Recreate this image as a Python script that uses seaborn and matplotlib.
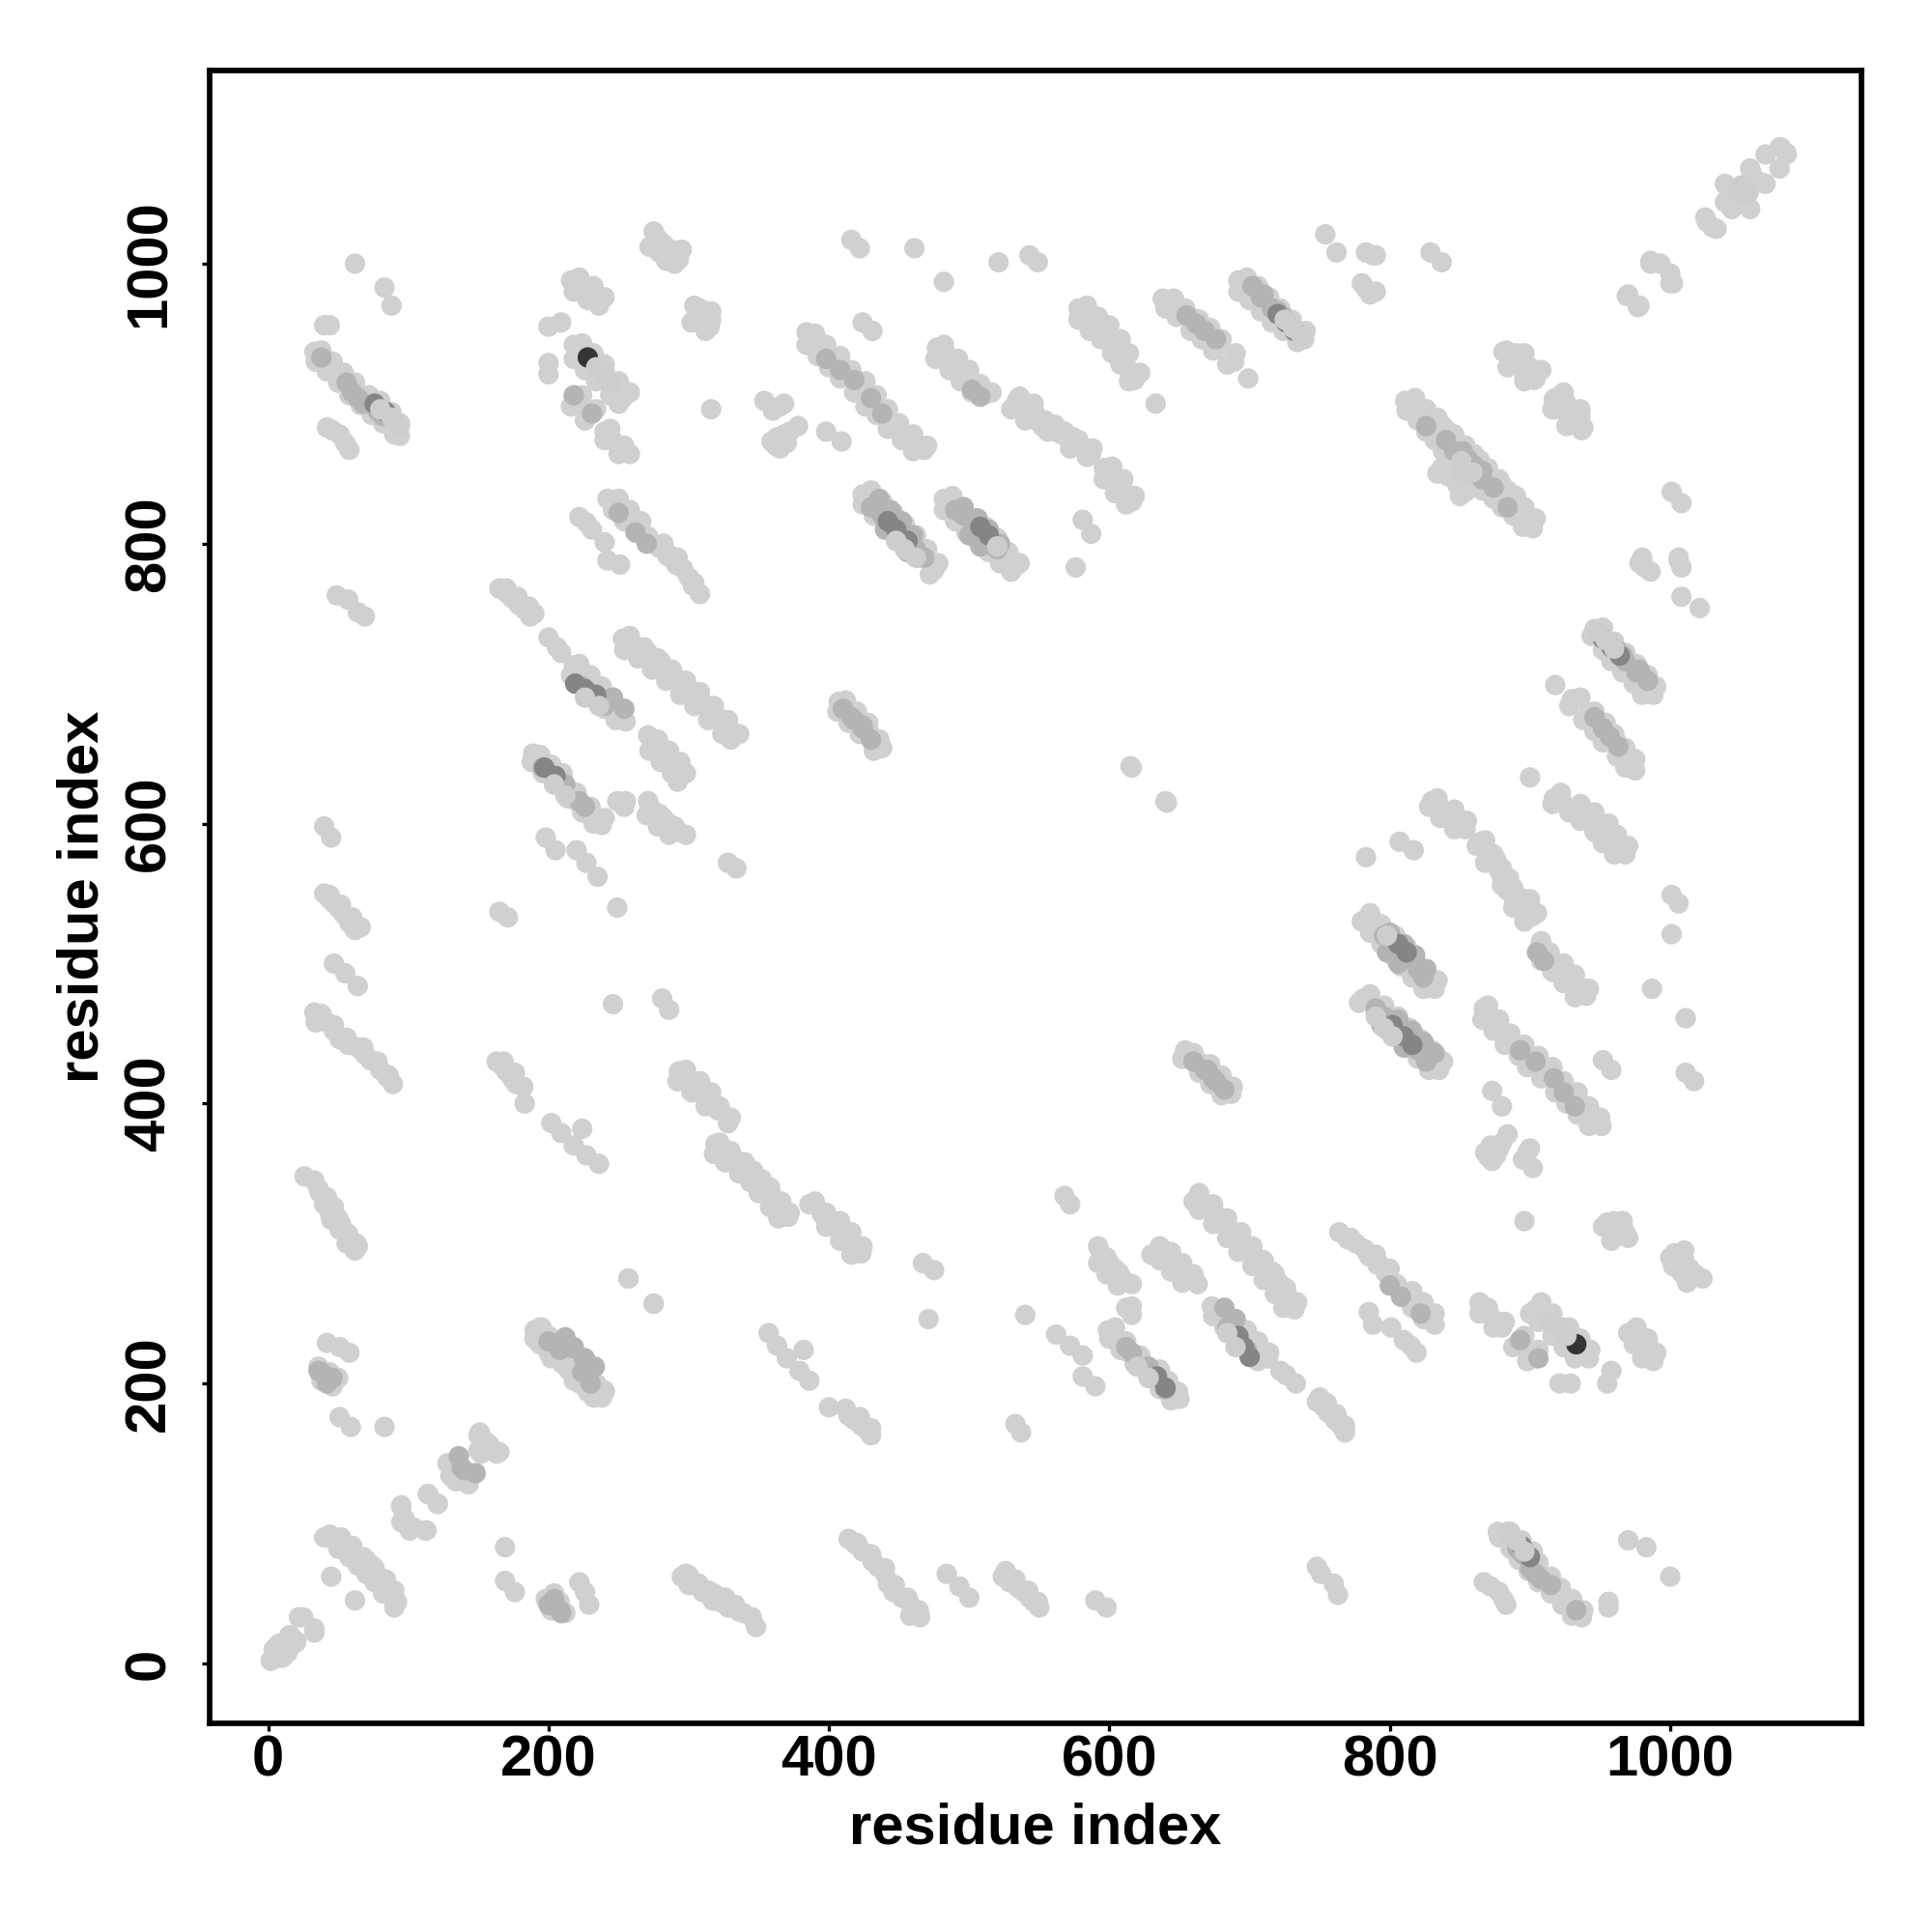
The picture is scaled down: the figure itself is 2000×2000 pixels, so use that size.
import matplotlib
matplotlib.use("Agg")
import matplotlib.pyplot as plt
import pandas as pd
import seaborn as sns

# Contact positions, upper triangle (mirrored when drawn).
light_x = [
 4,2,16,20,25,33, 95,95,104,112,114,121,130,133,141,143,152,150,156,165,
 26,36,42,47,45,51,57,62, 33,37,41,47,52,57,63,
 42,51,58, 51,59, 83, 40,48,55,62,69, 45,
 33,38,42,48,52,55,60,64,68,71,76,80,85,89,92,94, 42,46,51,55,58, 40,44, 62,83,88,
 33,38,42,47,51,57,64,69,73,80,85,89, 47,55,64, 40,44,47,51,54,58,62, 40,45,
 49,57,64,69, 165,170,174,179,183,187, 165,171, 163,167,170,174,177,183,
 202,209,224,218,227,236, 190,196,200,207,218,227,237,
 189,196,203,212,222,231,238, 198,205,220,227,235, 249,
 200,206,209,218,225,234,242,249,255, 222,227,231,240,242,251,
 242,247,253,259,271,279,285,291,300,303,308, 200,209,200,200,
 216,222,227,233,237, 218,227,234,240,244,249,253, 218,225,231,240,245,249,255,
 246,281,286, 293,298,306,310,315,321,328, 319,325,332,337,341,348,
 257, 275,279,288,293,272, 308,315,306,302, 316,
 354,365,363,372,359,365, 384,389,394,400,407,413,420,425,429,435,442,448,455,462,468,
 424,431, 398,409, 416,422, 461, 482, 521, 543,549,
 477,483,490,497,503,512, 534,540,547,554,561,568,574,580,587,
 581,587,576, 424,430,438,444,451,458,464,470,475,
 482,490,499,505,512,517,521,527,532,
 578,584,591,598,605,610,614,618, 596,600,605,611,616, 633,
 638,645,653,660,666,673,679,689,699, 692,699,706,715,723,731,739,
 754,762, 783,790,783,790, 829,837,
 811,818,824,830,837,846,855,864,873,877, 837,844,851, 881,888,895,903,
 918,924,930,938, 969,978, 986,993,1000,
 407,413,420,425,429,434,438, 253,262,271,280,288,295,301,308,315,322,328,
 271,279,286,293, 249,255,271,279,286,293, 328,334,
 1026,1033,1040,1044,1055,1057,1065,1057,1068,1079,1083,
 615,640, 257,
]
light_y = [
 10,2,20,15,33,22, 113,101,97,95,121,114,134,141,134,128,150,163,158,151,
 348,339,333,326,317,310,305,295, 345,336,330,322,314,307,300,
 229,226,222, 176,169, 169, 90,88,84,77,72, 62,
 937,932,929,922,919,914,910,907,903,900,896,892,889,884,880,877, 883,881,878,872,867, 956,956, 1000,983,970,
 465,461,458,452,446,442,440,435,431,424,419,414, 500,493,484, 550,546,543,539,535,529,524, 598,590,
 763,760,751,748, 768,765,761,756,753,748, 537,533, 430,427,423,418,414,400,
 386,379,382,370,363,357, 238,233,229,222,209,202,191,
 650,643,634,625,614,607,599, 590,581,581,572,562, 540,
 733,726,722,713,702,695,689,682,673, 819,815,810,801,788,785,
 832,828,823,817,805,797,791,785,776,770,764, 955,958,929,921,
 988,986,984,979,975, 942,936,931,924,915,910,904, 905,897,893,880,875,871,865,
 471,475,467, 423,419,414,408,403,395,386, 371,366,361,356,352,346,
 275, 1023,1008,1008,1003,1012, 968,955,964,958, 896,
 902,898,876,880,873,868, 951,945,937,934,929,922,915,910,902,896,889,884,878,872,867,
 958,952, 880,873, 1017,1011, 1011, 987, 1001, 1006,1001,
 940,936,929,922,915,907, 902,897,893,888,885,880,876,870,865,
 817,807,783, 835,830,823,817,810,803,797,789,781,
 832,826,819,815,810,803,797,790,783,
 968,962,955,949,942,934,924,917, 854,849,843,836,830, 900,
 975,972,968,961,955,949,942,930,918, 988,983,977,969,961,953,946,
 1021,1008, 1008,1006,982,980, 1008,1001,
 902,898,893,886,880,863,858,849,841,836, 854,849,845, 937,933,929,917,
 904,899,893,883, 977,970, 1002,1000,986,
 687,683,678,672,665,660,654, 732,727,722,716,709,702,695,690,682,675,667,
 663,651,645,638, 616,616,616,607,600,594, 572,568,
 1030,1025,1056,1039,1052,1039,1058,1068,1078,1083,1078,
 641,616, 275,
]

# Points on the flanks of the bands, which give them their width.
side_x = [
 8,14,6,12, 44,52,60,68,74,50,58,64, 40,44,50,56,64, 36,44,50,38,46,
 38,46,54,62,72,80,88,94,34,42,50,58,66,74,82,90,
 38,47,56,68,78,86,34, 44,52,60,66, 170,178,186,190, 168,176,182,
 195,206,214,224,234,240,190,200,210,218,228,
 194,202,210,220,230,240,188,196,204,214,224,232,
 222,230,238,246,254,216,224,232,240,248,
 250,258,266,246,254,286,296,304,282,292,
 224,232,240,250,258,218,226,234,244,250,
 222,232,240,218,228,236, 224,234,244,254,258,216,226,240,250,
 282,288,292,284,290,295,278,286, 310,316,312,316,304,
 298,308,316,322,330,292,302,312,
 322,330,340,318,326,336,344,352,358,
 390,398,408,416,426,434,442,450,460,470,384,392,400,408,418,426,434,442,452,460,
 482,492,500,508,516,476,486,494,502,
 536,546,548,556,566,578,588,530,540,552,562,572,584,
 430,438,446,454,462,470,478,424,432,440,448,456,464,472,
 488,496,504,512,520,528,536,482,490,498,506,514,522,530,
 584,592,600,608,614,622,578,586,594,602,608,614,
 602,610,618,596,604,612,
 646,654,664,672,680,690,640,648,658,666,674,684,
 698,706,714,722,730,740,692,700,708,716,724,734,
 818,826,834,842,852,860,870,878,884,812,820,830,838,846,856,866,874,880,
 890,900,924,936,884,896,918,928,
 258,268,278,288,298,308,318,328,336,254,264,274,284,294,304,314,324,330,
 278,286,294,298,272,280,288,292,
 254,274,282,290,298,270,278,286,
 412,420,428,436,406,414,422,432,
 368,360,370,362,378,368, 788,780,786, 842,834,848,
]
side_y = [
 14,8,4,6, 92,90,84,76,70,82,76,70, 328,322,318,300,298, 212,208,204,202,198,
 938,930,922,915,906,902,894,886,930,923,915,906,899,892,886,878,
 464,456,447,440,430,420,458, 549,542,533,526, 768,762,755,750, 430,422,412,
 240,230,224,208,200,194,232,222,214,202,194,
 649,642,636,622,612,604,644,636,628,618,608,600,
 714,706,698,690,682,706,698,690,682,674,
 832,824,816,824,816,792,782,772,800,790,
 943,936,928,916,908,932,924,916,906,900,
 990,984,976,980,974,970, 906,896,882,870,864,898,888,874,864,
 1014,1010,1008,1002,1000,1010,1018,1004, 962,966,952,960,970,
 424,416,408,398,390,416,408,398,
 372,366,358,364,358,350,344,346,338,
 950,942,934,924,916,906,896,886,878,870,942,934,926,918,908,898,892,882,874,866,
 942,932,924,914,908,932,924,916,908,
 905,900,888,880,878,874,868,896,888,884,880,868,862,
 838,830,822,814,806,796,786,828,820,812,804,796,790,778,
 834,826,818,812,804,794,786,824,816,808,802,794,786,780,
 970,962,956,946,936,922,960,952,946,936,928,916,
 855,846,834,846,836,828,
 975,968,960,954,946,936,968,962,952,946,938,928,
 990,984,976,968,960,952,980,974,966,958,952,944,
 904,896,890,880,868,864,854,846,838,895,888,880,870,852,846,838,832,826,
 936,926,908,896,926,916,896,888,
 734,726,718,710,702,694,684,674,664,724,718,710,702,692,684,674,664,660,
 660,652,644,636,652,644,636,630,
 612,610,604,598,592,606,598,592,
 688,680,672,660,680,672,664,652,
 900,895,872,870,884,878, 1006,986,978, 858,850,842,
]

# Darker contacts, drawn over the light ones.
mid_x = [38,46,36,42, 60,64,68,78,82, 38,56, 196,205,212,222,226, 212,218,225,
         224,232,240, 218,231, 250,262,270, 410,416,424,
         398,408,418,430,438, 502,508, 655,662, 702,708,716,724, 826,840,866,
         432,438,446,454,462,468, 490,496,504,512,520, 660,668,674, 138,148,
         200,208,246,254,
         430,436,444,452,460,440,448,456, 496,506,514,522,500,508,
         846,856, 710,720, 668,676]
mid_y = [208,204,209,200, 908,904,900,895,891, 933,915, 640,632,628,616,612, 233,226,218,
         698,692,684, 906,893, 822,808,800, 682,676,670,
         932,924,917,904,893, 910,905, 963,957, 984,976,968,962, 884,874,852,
         826,820,812,804,796,790, 824,820,812,804,796, 430,424,418, 140,136,
         230,224,690,682,
         826,832,824,816,806,810,802,794, 826,818,810,800,806,798,
         866,860, 978,966, 952,946]
dark_x = [76,84, 197,205, 219,226, 234, 442,448,456, 720,726,732, 508,514]
dark_y = [900,894, 640,634, 700,696, 692, 816,810,802, 964,958,952, 812,806]
black_x = [228, 1052, 855]
black_y = [933, 1052, 852]
# Light dots resting on the dark ones, which leaves dark crescents.
top_x = [234,240,244, 80,88,92,94, 1056,1048, 859,851, 448,454,462, 520, 725,731,737, 204,212, 226,236]
top_y = [926,920,915, 896,890,886,884, 1051,1052, 851,853, 802,796,790, 798, 960,954,948, 628,620, 690,684]

grey_levels = {"light": "#d0d0d0", "mid": "#b4b4b4", "dark": "#858585",
               "black": "#353535", "top": "#cdcdcd"}
tick_values = [0, 200, 400, 600, 800, 1000]
axis_label = "residue index"


def layer(name, xs, ys):
    return pd.DataFrame({"x": xs + ys, "y": ys + xs, "level": name})


contacts = pd.concat([
    layer("light", side_x, side_y),
    layer("light", light_x, light_y),
    layer("mid", mid_x, mid_y),
    layer("dark", dark_x, dark_y),
    layer("black", black_x, black_y),
    layer("top", top_x, top_y),
], ignore_index=True)

sns.set_theme(style="white")
plt.rcParams["font.family"] = ["Liberation Sans", "DejaVu Sans"]
plt.rcParams["font.weight"] = "bold"

fig = plt.figure(figsize=(10, 10), dpi=200)
ax = fig.add_axes([217 / 2000, 1 - 1784 / 2000, 1710 / 2000, 1711 / 2000])
sns.scatterplot(data=contacts, x="x", y="y", hue="level", palette=grey_levels,
                s=58, linewidth=0, alpha=1, legend=False, ax=ax, zorder=3)
ax.set_xlim(-41.7, 1136.4)
ax.set_ylim(-42.8, 1138)
ax.set_xticks(tick_values)
ax.set_yticks(tick_values)
ax.tick_params(axis="x", labelsize=21.5, length=3, width=1.2, pad=1, color="black",
               labelcolor="black", bottom=True)
ax.tick_params(axis="y", labelsize=21.5, length=3, width=1.2, pad=9.5, color="black",
               labelcolor="black", left=True)
for t in ax.get_yticklabels():
    t.set_rotation(90)
    t.set_va("center")
ax.set_xlabel(axis_label, fontsize=21.5, fontweight="bold", labelpad=5.5, color="black")
ax.set_ylabel(axis_label, fontsize=21.5, fontweight="bold", labelpad=5, color="black")
for s in ax.spines.values():
    s.set_linewidth(2.05)
    s.set_color("black")
fig.savefig("out.png", dpi=200, facecolor="white")
